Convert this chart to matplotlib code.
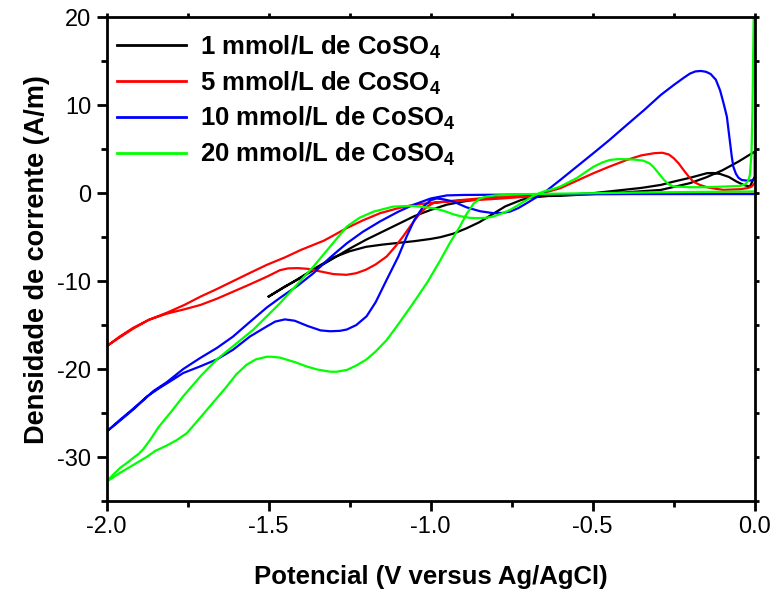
import matplotlib
matplotlib.use('Agg')
import matplotlib.pyplot as plt
from matplotlib.ticker import MultipleLocator, FormatStrFormatter

plt.rcParams['font.family'] = ['Liberation Sans', 'DejaVu Sans']
plt.rcParams['mathtext.default'] = 'regular'
plt.rcParams['axes.unicode_minus'] = False

# potential (V) and current density (A/m), one closed path per curve
pot_1 = [-1.50, -1.45, -1.40, -1.36, -1.30, -1.25, -1.20, -1.15, -1.10, -1.05, -1.00,
         -0.95, -0.90, -0.85, -0.81, -0.70, -0.60, -0.50, -0.40, -0.29, -0.20, -0.15,
         -0.10, -0.05, 0.00,
         0.00, -0.015, -0.035, -0.056, -0.08, -0.107, -0.13, -0.148, -0.175, -0.20,
         -0.25, -0.29, -0.35, -0.40, -0.50, -0.60, -0.662, -0.69, -0.72, -0.77, -0.81,
         -0.85, -0.89, -0.93, -0.97, -1.00, -1.05, -1.10, -1.15, -1.20, -1.25, -1.30,
         -1.36, -1.42, -1.50]
cur_1 = [-11.75, -10.6, -9.6, -8.7, -7.4, -6.3, -5.3, -4.4, -3.5, -2.6, -1.9,
         -1.3, -0.95, -0.65, -0.45, -0.35, -0.3, -0.1, 0.1, 0.37, 1.14, 1.8,
         2.6, 3.6, 4.73,
         1.9, 0.75, 0.95, 1.32, 1.85, 2.19, 2.3, 2.27, 2.0, 1.75,
         1.32, 0.94, 0.6, 0.4, 0.0, -0.2, -0.38, -0.5, -0.76, -1.5, -2.4,
         -3.3, -4.0, -4.6, -5.0, -5.2, -5.45, -5.65, -5.85, -6.1, -6.6, -7.3,
         -8.6, -10.0, -11.75]

pot_5 = [0.00, -0.30, -0.60, -0.75, -0.85, -0.93, -0.99, -1.01, -1.033, -1.06, -1.085,
         -1.11, -1.136, -1.17, -1.20, -1.23, -1.26, -1.30, -1.34, -1.38, -1.41, -1.44,
         -1.465, -1.506, -1.56, -1.61, -1.66, -1.71, -1.76, -1.815, -1.87, -1.918,
         -1.96, -2.00,
         -1.96, -1.918, -1.87, -1.815, -1.76, -1.71, -1.66, -1.61, -1.56, -1.506, -1.45,
         -1.40, -1.33, -1.30, -1.26, -1.21, -1.156, -1.10, -1.054, -1.00, -0.95, -0.85,
         -0.78, -0.70, -0.65, -0.60, -0.55, -0.498, -0.45, -0.395, -0.35, -0.31, -0.285,
         -0.265, -0.25, -0.235, -0.22, -0.205, -0.19, -0.17, -0.148, -0.12, -0.097,
         -0.045, -0.02, -0.01, 0.00]
cur_5 = [-0.05, -0.05, -0.15, -0.35, -0.6, -0.85, -1.1, -1.5, -2.27, -3.6, -4.9,
         -6.1, -7.2, -8.1, -8.7, -9.1, -9.28, -9.2, -8.9, -8.6, -8.52, -8.55,
         -8.75, -9.5, -10.4, -11.2, -12.0, -12.7, -13.2, -13.7, -14.4, -15.4,
         -16.4, -17.4,
         -16.3, -15.3, -14.4, -13.6, -12.7, -11.75, -10.9, -10.0, -9.1, -8.15, -7.3,
         -6.44, -5.4, -4.8, -3.98, -3.1, -2.27, -1.7, -1.33, -1.1, -0.95, -0.76,
         -0.6, -0.38, 0.05, 0.57, 1.4, 2.27, 3.0, 3.78, 4.3, 4.55, 4.6,
         4.4, 3.98, 3.4, 2.65, 1.95, 1.32, 0.95, 0.68, 0.5, 0.38,
         0.45, 0.6, 0.75, 1.14]

pot_10 = [0.00, -0.50, -0.90, -0.95, -1.00, -1.054, -1.10, -1.156, -1.21, -1.259, -1.31,
          -1.362, -1.41, -1.465, -1.506, -1.56, -1.61, -1.66, -1.712, -1.764, -1.815,
          -1.856, -1.918, -1.96, -2.00,
          -1.96, -1.918, -1.875, -1.835, -1.80, -1.764, -1.712, -1.66, -1.61, -1.558,
          -1.506, -1.48, -1.45, -1.42, -1.38, -1.34, -1.31, -1.28, -1.259, -1.23, -1.198,
          -1.17, -1.136, -1.10, -1.074, -1.05, -1.023, -1.00, -0.982, -0.96, -0.93, -0.89,
          -0.848, -0.807, -0.78, -0.755, -0.73, -0.704, -0.68, -0.652, -0.60, -0.55,
          -0.498, -0.45, -0.395, -0.34, -0.29, -0.25, -0.22, -0.20, -0.183, -0.166,
          -0.15, -0.136, -0.12, -0.107, -0.096, -0.086, -0.081, -0.076, -0.071, -0.066,
          -0.058, -0.05, -0.04, -0.025, -0.01, 0.00]
cur_10 = [-0.1, -0.1, -0.2, -0.25, -0.6, -1.33, -2.1, -3.2, -4.4, -5.7, -7.3,
          -9.1, -10.5, -11.9, -13.0, -14.7, -16.3, -17.6, -18.75, -20.0, -21.5,
          -22.5, -24.6, -25.9, -27.1,
          -25.8, -24.5, -23.1, -22.1, -21.3, -20.45, -19.7, -18.9, -17.8, -16.3,
          -15.15, -14.6, -14.35, -14.5, -15.1, -15.6, -15.7, -15.65, -15.5, -15.0, -14.0,
          -12.4, -9.85, -7.2, -4.9, -3.0, -1.52, -0.8, -0.6, -0.7, -0.95, -1.6,
          -2.05, -2.27, -2.25, -2.09, -1.7, -1.14, -0.6, 0.0, 1.51, 3.0,
          4.55, 6.0, 7.76, 9.5, 11.17, 12.3, 13.1, 13.6, 13.85, 13.9,
          13.8, 13.55, 12.9, 11.7, 10.2, 8.7, 7.2, 5.7, 4.2, 3.0,
          2.2, 1.75, 1.5, 1.43, 1.45, 1.6]

pot_20 = [0.00, -0.30, -0.50, -0.70, -0.80, -0.83, -0.848, -0.868, -0.89, -0.91, -0.94,
          -0.97, -1.01, -1.054, -1.10, -1.136, -1.17, -1.198, -1.23, -1.259, -1.29,
          -1.31, -1.35, -1.383, -1.42, -1.465, -1.49, -1.506, -1.54, -1.568, -1.60,
          -1.63, -1.66, -1.69, -1.72, -1.753, -1.785, -1.815, -1.85, -1.877, -1.918,
          -1.959, -2.00,
          -1.98, -1.959, -1.935, -1.918, -1.90, -1.887, -1.865, -1.84, -1.80, -1.764,
          -1.71, -1.66, -1.547, -1.465, -1.362, -1.259, -1.22, -1.177, -1.115, -1.054,
          -0.992, -0.96, -0.93, -0.91, -0.88, -0.858, -0.83, -0.807, -0.78, -0.755,
          -0.73, -0.704, -0.68, -0.652, -0.62, -0.60, -0.55, -0.498, -0.47, -0.447,
          -0.42, -0.395, -0.37, -0.344, -0.325, -0.313, -0.295, -0.28, -0.265, -0.25,
          -0.20, -0.148, -0.045, -0.03, -0.02, -0.015, -0.01, -0.007, -0.005, -0.003]
cur_20 = [0.2, 0.1, 0.0, -0.1, -0.25, -0.4, -0.6, -1.2, -2.4, -3.8, -5.6,
          -7.6, -10.1, -12.5, -14.9, -16.7, -18.0, -18.9, -19.6, -20.1, -20.3,
          -20.3, -20.05, -19.7, -19.2, -18.7, -18.6, -18.6, -18.9, -19.5, -20.6,
          -22.0, -23.3, -24.6, -25.9, -27.3, -28.1, -28.7, -29.3, -30.0, -30.9,
          -31.8, -32.8,
          -32.0, -31.25, -30.6, -30.1, -29.6, -29.1, -28.0, -26.6, -24.8, -23.1,
          -20.8, -18.9, -15.5, -12.5, -8.34, -3.8, -2.8, -2.1, -1.52, -1.44,
          -1.7, -2.0, -2.4, -2.6, -2.8, -2.84, -2.8, -2.65, -2.3, -1.9,
          -1.35, -0.76, -0.25, 0.19, 0.5, 0.76, 1.7, 3.0, 3.5, 3.78,
          3.88, 3.86, 3.82, 3.7, 3.4, 3.0, 2.2, 1.51, 1.0, 0.76,
          0.68, 0.68, 0.83, 1.0, 1.4, 2.08, 4.5, 9.5, 15.0, 21.0]

labels = ['1 mmol/L de CoSO$_4$', '5 mmol/L de CoSO$_4$',
          '10 mmol/L de CoSO$_4$', '20 mmol/L de CoSO$_4$']
colors = ['black', '#ff0000', '#0000ff', '#00ff00']

fig = plt.figure(figsize=(7.76, 5.91), dpi=100)
ax = fig.add_axes([0.1375, 0.1523, 0.8351, 0.8184])

series = [(pot_1, cur_1), (pot_5, cur_5), (pot_10, cur_10), (pot_20, cur_20)]
for (p, c), lab, col in zip(series, labels, colors):
    ax.plot(p, c, color=col, lw=1.6, label=lab, solid_joinstyle='round')

ax.set_xlim(-2.0, 0.0)
ax.set_ylim(-35, 20)
ax.xaxis.set_major_locator(MultipleLocator(0.5))
ax.xaxis.set_minor_locator(MultipleLocator(0.25))
ax.yaxis.set_major_locator(MultipleLocator(10))
ax.yaxis.set_minor_locator(MultipleLocator(5))
ax.xaxis.set_major_formatter(FormatStrFormatter('%.1f'))

for s in ax.spines.values():
    s.set_linewidth(2.0)
ax.tick_params(which='major', direction='out', length=7, width=2, labelsize=17, pad=4)
ax.tick_params(which='minor', direction='out', length=4, width=2)
ax.tick_params(which='both', top=True, right=True)
for t in ax.xaxis.get_major_ticks() + ax.xaxis.get_minor_ticks():
    t.tick2line.set_markersize(3)
for t in ax.yaxis.get_major_ticks() + ax.yaxis.get_minor_ticks():
    t.tick2line.set_markersize(3)

ax.set_xlabel('Potencial (V versus Ag/AgCl)', fontsize=18.5, fontweight='bold', labelpad=19)
ax.set_ylabel('Densidade de corrente (A/m)', fontsize=19.5, fontweight='bold', labelpad=5)

leg = ax.legend(loc='upper left', bbox_to_anchor=(-0.012, 1.004), frameon=False,
                prop={'size': 18.5, 'weight': 'bold'}, handlelength=2.7,
                handletextpad=0.55, labelspacing=0.34, borderaxespad=0.3)
for h in leg.get_lines():
    h.set_linewidth(2.0)

fig.savefig('out.png', dpi=100)
